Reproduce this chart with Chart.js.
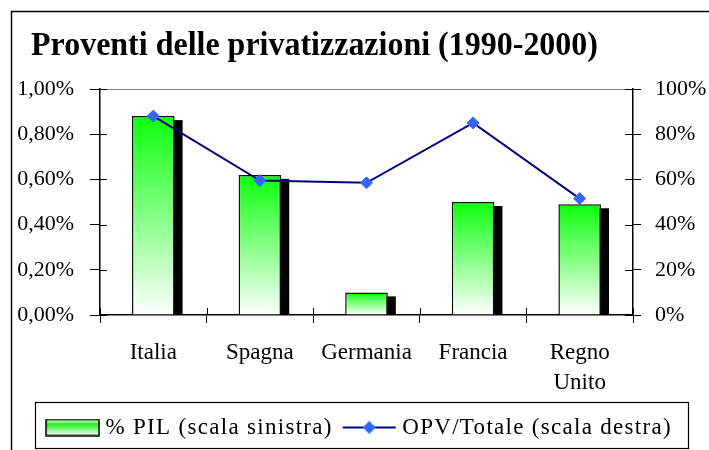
<!DOCTYPE html>
<html><head><meta charset="utf-8">
<script src="https://cdn.jsdelivr.net/npm/chart.js@4.4.1/dist/chart.umd.min.js"></script>
<style>html,body{margin:0;padding:0;background:#fff;}#wrap{width:709px;height:450px;position:relative;}</style>
</head><body><div id="wrap"><canvas id="c" width="709" height="450"></canvas></div>
<script>
const titleText = 'Proventi delle privatizzazioni (1990-2000)';
const categories = ['Italia', 'Spagna', 'Germania', 'Francia', ['Regno', 'Unito']];
const pilValues = [0.88, 0.62, 0.10, 0.50, 0.49];
const opvValues = [88, 59.5, 58.5, 85, 51.5];
const pilLabel = '% PIL (scala sinistra)';
const opvLabel = 'OPV/Totale (scala destra)';
const leftMax = 1.0, leftStep = 0.2;
const rightMax = 100, rightStep = 20;

const FONT = "'Liberation Serif', 'Times New Roman', serif";
const LEGEND_SPACING = '1.3px';

function barGradient(ctx) {
  const chart = ctx.chart, y = chart.scales && chart.scales.y;
  if (!y || ctx.type !== 'data') return '#55ff55';
  const top = y.getPixelForValue(ctx.raw), base = y.getPixelForValue(0);
  if (!isFinite(top) || !isFinite(base) || top === base) return '#55ff55';
  const g = chart.ctx.createLinearGradient(0, top, 0, base);
  g.addColorStop(0, '#0cff0c');
  g.addColorStop(1, '#ffffff');
  return g;
}

function barSwatch() {
  const c = document.createElement('canvas'); c.width = 55; c.height = 18;
  const x = c.getContext('2d');
  const g = x.createLinearGradient(0, 1, 0, 17);
  g.addColorStop(0, '#e8ffe8'); g.addColorStop(0.3, '#22ee22'); g.addColorStop(1, '#ffffff');
  x.fillStyle = g; x.fillRect(1, 1, 53, 16);
  x.strokeStyle = '#000'; x.lineWidth = 1.5; x.strokeRect(1, 1, 53, 16);
  return c;
}
function lineSwatch() {
  const c = document.createElement('canvas'); c.width = 55; c.height = 18;
  const x = c.getContext('2d');
  x.strokeStyle = '#000080'; x.lineWidth = 2;
  x.beginPath(); x.moveTo(1, 9); x.lineTo(54, 9); x.stroke();
  x.fillStyle = '#3366ff';
  x.beginPath(); x.moveTo(27.5, 2.5); x.lineTo(34, 9); x.lineTo(27.5, 15.5); x.lineTo(21, 9); x.closePath(); x.fill();
  return c;
}

function withSpacing(ctx, fn) {
  const prev = ctx.letterSpacing;
  ctx.letterSpacing = LEGEND_SPACING;
  try { return fn(); } finally { ctx.letterSpacing = prev || '0px'; }
}

const decorPlugin = {
  id: 'decor',
  beforeLayout(chart) {
    const lg = chart.legend;
    if (lg && !lg._spaced) {
      lg._spaced = true;
      const fit = lg.fit, draw = lg.draw;
      lg.fit = function () { return withSpacing(chart.ctx, () => fit.apply(this, arguments)); };
      lg.draw = function () { return withSpacing(chart.ctx, () => draw.apply(this, arguments)); };
    }
  },
  beforeDatasetDraw(chart, args) {
    if (args.index !== 1) return;
    const ctx = chart.ctx;
    ctx.save(); ctx.fillStyle = '#000';
    args.meta.data.forEach(el => {
      const p = el.getProps(['x', 'y', 'base', 'width'], true);
      ctx.fillRect(p.x - p.width / 2 + 8, p.y + 4, p.width, p.base - p.y - 4);
    });
    ctx.restore();
  },
  afterDraw(chart) {
    const ctx = chart.ctx, a = chart.chartArea;
    ctx.save();
    ctx.strokeStyle = '#000'; ctx.lineWidth = 1.5;
    ctx.beginPath(); ctx.moveTo(11.5, 450); ctx.lineTo(11.5, 11.5); ctx.lineTo(709, 11.5); ctx.stroke();
    ctx.lineWidth = 1; ctx.strokeStyle = '#000';
    ctx.beginPath();
    chart.scales.y.ticks.forEach((t, i) => { const py = Math.round(chart.scales.y.getPixelForTick(i)) + 0.5; ctx.moveTo(a.left, py); ctx.lineTo(a.left + 7, py); });
    chart.scales.y1.ticks.forEach((t, i) => { const py = Math.round(chart.scales.y1.getPixelForTick(i)) + 0.5; ctx.moveTo(a.right - 8, py); ctx.lineTo(a.right, py); });
    const xs = chart.scales.x, n = xs.ticks.length;
    for (let i = 0; i <= n; i++) {
      let px;
      if (i === 0) px = a.left; else if (i === n) px = a.right;
      else px = (xs.getPixelForTick(i - 1) + xs.getPixelForTick(i)) / 2;
      px = Math.round(px) + 0.5;
      ctx.moveTo(px, a.bottom - 7); ctx.lineTo(px, a.bottom);
    }
    ctx.stroke();
    const lg = chart.legend;
    if (lg && lg.legendHitBoxes && lg.legendHitBoxes.length) {
      const hb = lg.legendHitBoxes, last = hb[hb.length - 1];
      const l = Math.round(hb[0].left - 16) + 0.5, r = Math.round(last.left + last.width + 16) + 0.5;
      const t = Math.round(lg.top + 1) + 0.5, b = Math.round(lg.bottom) - 0.5;
      ctx.lineWidth = 1.2;
      ctx.strokeRect(l, t, r - l, b - t);
    }
    ctx.fillStyle = '#000';
    ctx.font = 'bold 34px ' + FONT;
    ctx.textBaseline = 'alphabetic'; ctx.textAlign = 'left';
    ctx.fillText(titleText, 31, 55, 567);
    ctx.restore();
  }
};

const swatches = [barSwatch(), lineSwatch()];

new Chart(document.getElementById('c'), {
  type: 'bar',
  data: {
    labels: categories,
    datasets: [
      {
        type: 'line', label: opvLabel, data: opvValues, yAxisID: 'y1', order: 0,
        borderColor: '#000080', borderWidth: 2, tension: 0,
        pointStyle: 'rectRot', pointRadius: 6, pointHoverRadius: 6,
        pointBackgroundColor: '#3366ff', pointBorderColor: '#3366ff', pointBorderWidth: 1
      },
      {
        type: 'bar', label: pilLabel, data: pilValues, yAxisID: 'y', order: 1,
        backgroundColor: barGradient, borderColor: '#111', borderWidth: 1.5,
        barPercentage: 0.8, categoryPercentage: 0.5
      }
    ]
  },
  options: {
    responsive: false, animation: false, devicePixelRatio: 1,
    layout: { padding: { left: 14, right: 0, top: 89, bottom: 1 } },
    plugins: {
      title: { display: false },
      tooltip: { enabled: false },
      legend: {
        display: true, position: 'bottom',
        labels: {
          usePointStyle: true, pointStyleWidth: 43, padding: 15, color: '#000',
          font: { family: FONT, size: 23 },
          generateLabels: () => [
            { text: pilLabel, pointStyle: swatches[0], fillStyle: '#0f0', strokeStyle: '#000', lineWidth: 0, hidden: false, datasetIndex: 1 },
            { text: opvLabel, pointStyle: swatches[1], fillStyle: '#36f', strokeStyle: '#000080', lineWidth: 0, hidden: false, datasetIndex: 0 }
          ]
        }
      }
    },
    scales: {
      x: {
        offset: true,
        grid: { display: true, offset: true, drawOnChartArea: false, drawTicks: true, tickLength: 8, color: '#000', tickColor: '#000' },
        border: { display: true, color: '#000', width: 1.5 },
        ticks: { color: '#000', font: { family: FONT, size: 23, lineHeight: 1.3 }, padding: 15, maxRotation: 0, autoSkip: false },
        afterFit: s => { s.height = 86; }
      },
      y: {
        position: 'left', min: 0, max: leftMax,
        grid: { drawOnChartArea: true, drawTicks: true, tickLength: 10, color: c => (c.tick && c.tick.value === leftMax ? '#888' : 'rgba(0,0,0,0)'), tickColor: '#000' },
        border: { display: true, color: '#000', width: 1.5 },
        ticks: { stepSize: leftStep, color: '#000', padding: 16, font: { family: FONT, size: 22 },
          callback: v => v.toFixed(2).replace('.', ',') + '%' },
        afterFit: s => { s.width = 86; }
      },
      y1: {
        position: 'right', min: 0, max: rightMax,
        grid: { drawOnChartArea: false, drawTicks: true, tickLength: 8, color: '#000', tickColor: '#000' },
        border: { display: true, color: '#000', width: 1.5 },
        ticks: { stepSize: rightStep, color: '#000', padding: 14, font: { family: FONT, size: 22 },
          callback: v => v + '%' },
        afterFit: s => { s.width = 76; }
      }
    }
  },
  plugins: [decorPlugin]
});
</script></body></html>
